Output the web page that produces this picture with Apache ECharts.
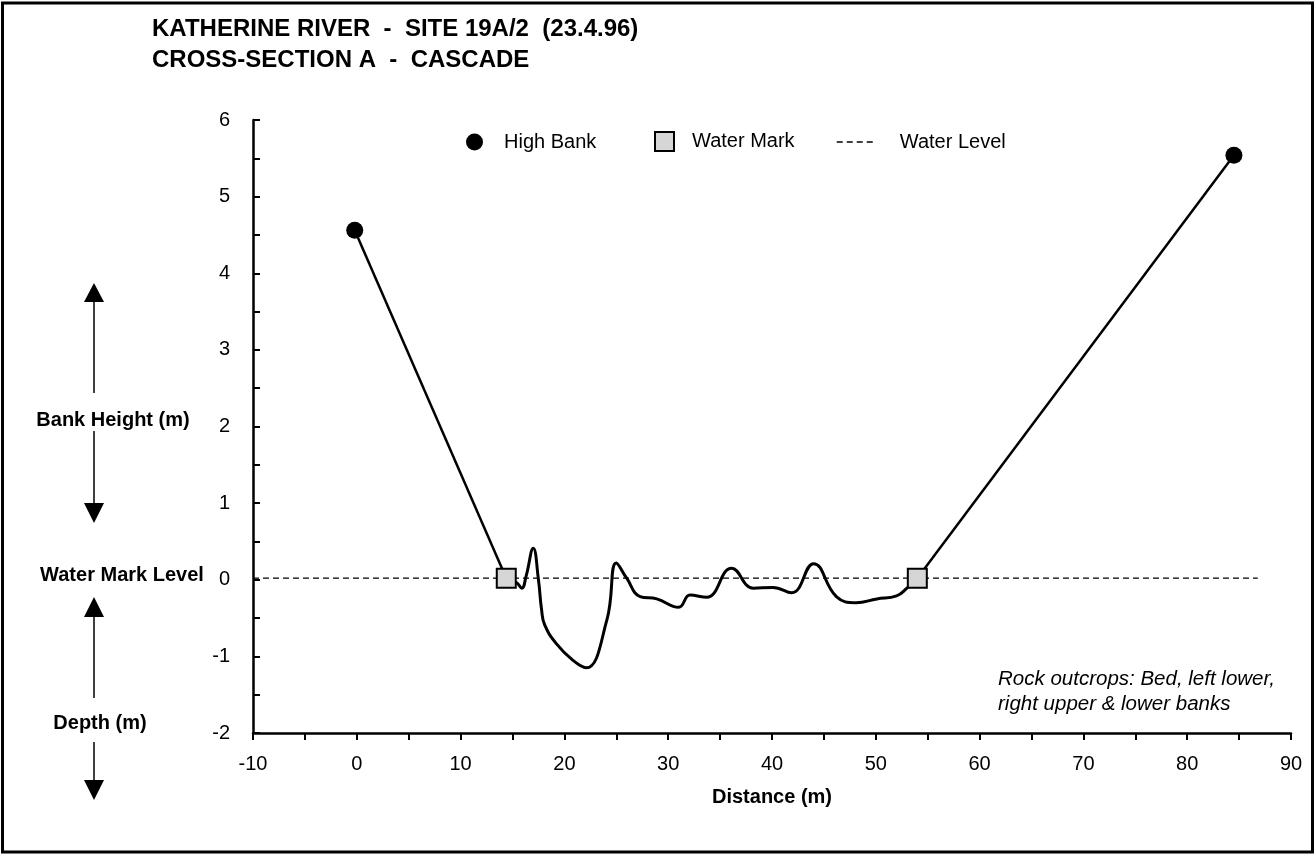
<!DOCTYPE html>
<html>
<head>
<meta charset="utf-8">
<title>Katherine River - Cross-section A</title>
<script src="https://cdn.jsdelivr.net/npm/echarts@6/dist/echarts.min.js"></script>
<style>
  html, body { margin: 0; padding: 0; background: #fff; }
  #chart { width: 1315px; height: 856px; }
</style>
</head>
<body>
<div id="chart"></div>
<script>
// values (distance m, height m)
const highBankX = [-0.2, 84.5]
const highBankY = [4.56, 5.54]
const waterMarkX = [14.4, 54.0]
const waterMarkY = [0.02, 0.02]
const waterLevelX = [-10, 86.8]
const waterLevelY = [0.02, 0.02]
const bedX = [14.4, 15.4, 15.9, 16.3, 17.0, 17.5, 17.8, 18.1, 19.2, 20.8, 22.1, 24.1, 25.0, 26.0, 27.3, 28.9, 31.0, 32.1, 33.7, 36.1, 38.2, 40.1, 41.9, 44.0, 46.2, 48.1, 50.1, 52.0, 53.0, 54.0]
const bedY = [0.02, -0.04, -0.11, 0.04, 0.41, 0.0, -0.39, -0.59, -0.83, -1.05, -1.15, -0.52, 0.22, 0.02, -0.22, -0.25, -0.36, -0.20, -0.23, 0.15, -0.11, -0.10, -0.17, 0.21, -0.22, -0.30, -0.25, -0.21, -0.11, 0.02]

const font = 'Liberation Sans, Arial, sans-serif'

function pairs (xs, ys) {
  let out = []
  for (let i = 0; i < xs.length; i++) {
    out.push([xs[i], ys[i]])
  }
  return out
}

let chart = echarts.init(document.getElementById('chart'))

// little helpers for the arrows drawn on the left
function arrowHead (x, tip, base) {
  return {
    type: 'polygon',
    shape: { points: [[x - 10, base], [x + 10, base], [x, tip]] },
    style: { fill: '#000' }
  }
}
function vline (x, y1, y2) {
  return {
    type: 'line',
    shape: { x1: x, y1: y1, x2: x, y2: y2 },
    style: { stroke: '#000', lineWidth: 1.5 }
  }
}
function label (text, x, y) {
  return {
    type: 'text',
    x: x,
    y: y,
    style: {
      text: text,
      fontSize: 20,
      fontWeight: 'bold',
      fontFamily: font,
      fill: '#000',
      align: 'center',
      verticalAlign: 'middle'
    }
  }
}

let option = {
  animation: false,
  backgroundColor: '#fff',
  textStyle: { fontFamily: font },
  title: {
    text: 'KATHERINE RIVER  -  SITE 19A/2  (23.4.96)\nCROSS-SECTION A  -  CASCADE',
    left: 152,
    top: 14,
    padding: 0,
    textStyle: { fontSize: 24, fontWeight: 'bold', lineHeight: 31, color: '#000', fontFamily: font }
  },
  legend: [
    {
      left: 466,
      top: 132,
      padding: 0,
      itemWidth: 17,
      itemHeight: 17,
      data: ['High Bank'],
      textStyle: { fontSize: 20, color: '#000', padding: [0, 0, 0, 16] }
    },
    {
      left: 654,
      top: 131,
      padding: 0,
      itemWidth: 19,
      itemHeight: 19,
      data: ['Water Mark'],
      textStyle: { fontSize: 20, color: '#000', padding: [0, 0, 0, 13] }
    },
    {
      left: 836,
      top: 132,
      padding: 0,
      itemWidth: 37,
      itemHeight: 17,
      data: ['Water Level'],
      itemStyle: { opacity: 0 },
      lineStyle: { color: '#000', width: 1.5, type: [6, 4], opacity: 1 },
      textStyle: { fontSize: 20, color: '#000', padding: [0, 0, 0, 21] }
    }
  ],
  grid: { left: 253, right: 24, top: 120, bottom: 123 },
  xAxis: {
    type: 'value',
    min: -10,
    max: 90,
    interval: 10,
    name: 'Distance (m)',
    nameLocation: 'middle',
    nameGap: 54,
    nameTextStyle: { fontSize: 20, fontWeight: 'bold', color: '#000' },
    axisLine: { show: true, onZero: false, lineStyle: { color: '#000', width: 2.5 } },
    axisTick: { show: true, length: 7, lineStyle: { color: '#000', width: 2 } },
    minorTick: { show: true, splitNumber: 2, length: 7, lineStyle: { color: '#000', width: 2 } },
    axisLabel: { fontSize: 20, color: '#000', margin: 21 },
    splitLine: { show: false }
  },
  yAxis: {
    type: 'value',
    min: -2,
    max: 6,
    interval: 1,
    axisLine: { show: true, onZero: false, lineStyle: { color: '#000', width: 2.5 } },
    axisTick: { show: true, inside: true, length: 7, lineStyle: { color: '#000', width: 2 } },
    minorTick: { show: true, splitNumber: 2, length: 7, lineStyle: { color: '#000', width: 2 } },
    axisLabel: { fontSize: 20, color: '#000', margin: 23 },
    splitLine: { show: false }
  },
  series: [
    {
      name: 'Water Level',
      type: 'line',
      data: pairs(waterLevelX, waterLevelY),
      symbol: 'none',
      silent: true,
      itemStyle: { color: '#000' },
      lineStyle: { color: '#000', width: 1.2, type: [6, 4] },
      z: 1
    },
    {
      name: 'left bank',
      type: 'line',
      data: [[highBankX[0], highBankY[0]], [waterMarkX[0], waterMarkY[0]]],
      symbol: 'none',
      silent: true,
      lineStyle: { color: '#000', width: 2.5 },
      z: 2
    },
    {
      name: 'right bank',
      type: 'line',
      data: [[waterMarkX[1], waterMarkY[1]], [highBankX[1], highBankY[1]]],
      symbol: 'none',
      silent: true,
      lineStyle: { color: '#000', width: 2.5 },
      z: 2
    },
    {
      name: 'bed',
      type: 'line',
      data: pairs(bedX, bedY),
      symbol: 'none',
      smooth: 0.45,
      silent: true,
      lineStyle: { color: '#000', width: 3 },
      z: 2
    },
    {
      name: 'High Bank',
      type: 'scatter',
      data: pairs(highBankX, highBankY),
      symbol: 'circle',
      symbolSize: 17,
      itemStyle: { color: '#000', opacity: 1 },
      z: 5
    },
    {
      name: 'Water Mark',
      type: 'scatter',
      data: pairs(waterMarkX, waterMarkY),
      symbol: 'rect',
      symbolSize: 19,
      itemStyle: { color: '#d6d6d6', borderColor: '#000', borderWidth: 2, opacity: 1 },
      z: 5
    }
  ],
  graphic: [
    {
      type: 'rect',
      shape: { x: 2.5, y: 3, width: 1310, height: 849 },
      style: { fill: 'none', stroke: '#000', lineWidth: 3 },
      silent: true
    },
    // bank height arrow
    arrowHead(94, 283, 302),
    vline(94, 302, 393),
    label('Bank Height (m)', 113, 420),
    vline(94, 431, 503),
    arrowHead(94, 523, 503),
    label('Water Mark Level', 122, 575),
    // depth arrow
    arrowHead(94, 597, 617),
    vline(94, 617, 698),
    label('Depth (m)', 100, 723),
    vline(94, 742, 780),
    arrowHead(94, 800, 780),
    {
      type: 'text',
      x: 998,
      y: 667,
      style: {
        text: 'Rock outcrops: Bed, left lower,\nright upper & lower banks',
        fontSize: 20.5,
        fontStyle: 'italic',
        fontFamily: font,
        lineHeight: 25,
        fill: '#000'
      }
    }
  ]
}

chart.setOption(option)
</script>
</body>
</html>
